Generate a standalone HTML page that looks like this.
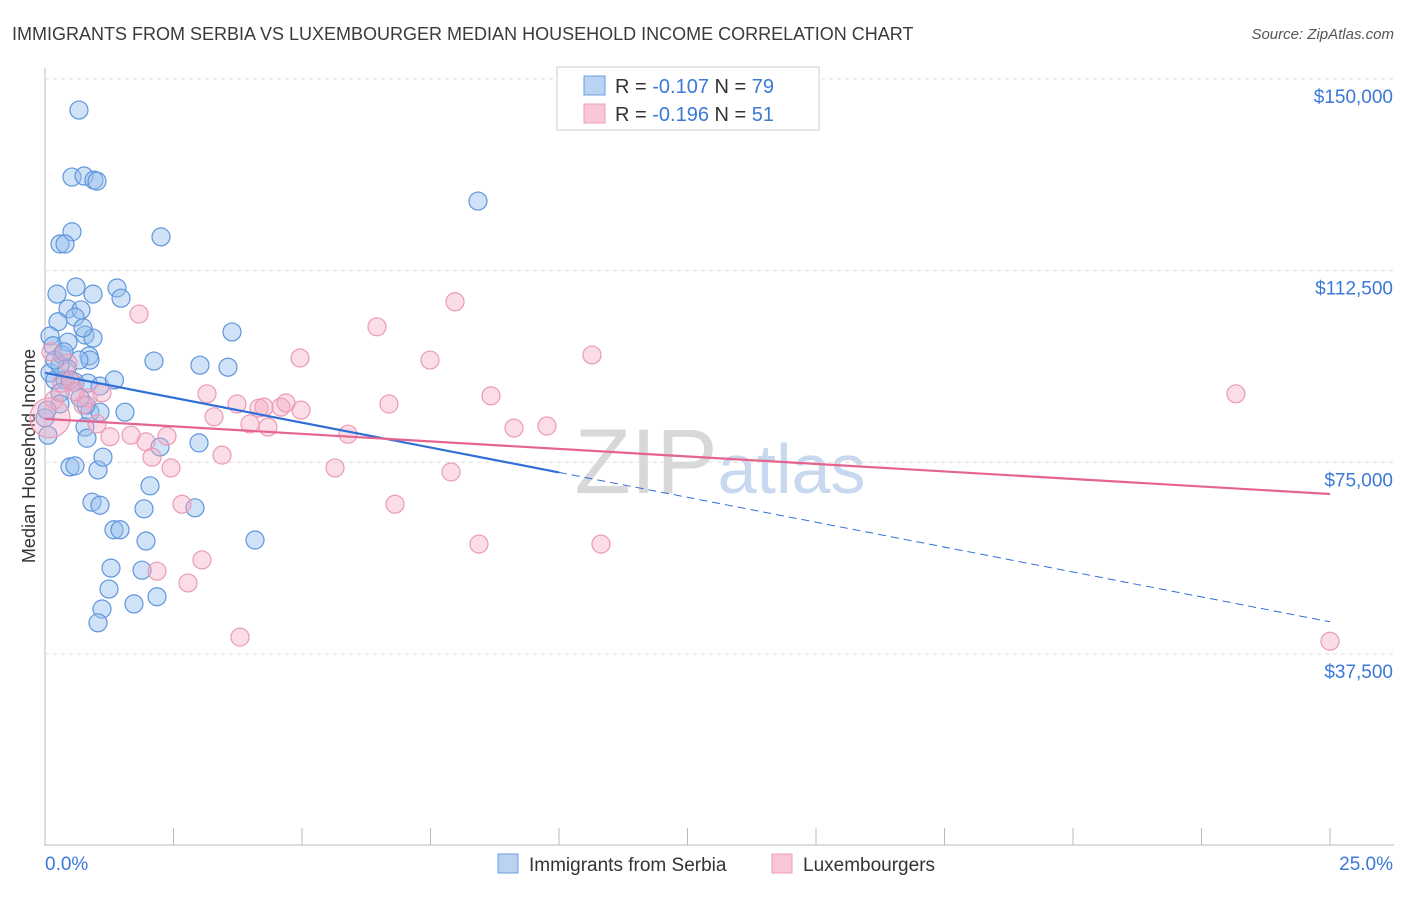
<!DOCTYPE html>
<html><head><meta charset="utf-8"><style>
body{margin:0;background:#fff;font-family:"Liberation Sans",sans-serif;}
svg text{font-family:"Liberation Sans",sans-serif;}
</style></head><body>
<svg id="c" width="1406" height="892">
<text x="12" y="40" font-size="18" fill="#3a3a3a">IMMIGRANTS FROM SERBIA VS LUXEMBOURGER MEDIAN HOUSEHOLD INCOME CORRELATION CHART</text>
<text x="1394" y="39" font-size="15" fill="#555" text-anchor="end" font-style="italic">Source: ZipAtlas.com</text>
<text x="35" y="456" font-size="18" fill="#333" text-anchor="middle" transform="rotate(-90 35 456)">Median Household Income</text>
<text x="720" y="493" font-size="92" fill="#d8d8d8" text-anchor="middle" font-family="Liberation Serif">ZIP<tspan fill="#c8d8ee" font-family="Liberation Sans" font-size="70">atlas</tspan></text>
<g id="grid"></g><g id="pts"></g><g id="lines"></g>
<g>
<rect x="557" y="67" width="262" height="63" fill="#fff" stroke="#ccc"/>
<rect x="584" y="76" width="21" height="19" fill="#b9d3f3" stroke="#6c9ee0"/>
<rect x="584" y="104" width="21" height="19" fill="#f8c6d5" stroke="#eba0b8"/>
<text x="615" y="93" font-size="20" fill="#333">R = <tspan fill="#3b78d8">-0.107</tspan>    N = <tspan fill="#3b78d8">79</tspan></text>
<text x="615" y="121" font-size="20" fill="#333">R = <tspan fill="#3b78d8">-0.196</tspan>    N =  <tspan fill="#3b78d8">51</tspan></text>
</g>
<g>
<rect x="498" y="854" width="20" height="19" fill="#b9d3f3" stroke="#6c9ee0"/>
<text x="529" y="871" font-size="19" fill="#333">Immigrants from Serbia</text>
<rect x="772" y="854" width="20" height="19" fill="#f8c6d5" stroke="#eba0b8"/>
<text x="803" y="871" font-size="19" fill="#333">Luxembourgers</text>
</g>
</svg>
<script>
const yTicks=[37.5,75,112.5,150];
const yTickLabels=["$37,500","$75,000","$112,500","$150,000"];
const xTickLabels=["0.0%","25.0%"];
const blueX=[0.661,0.525,0.759,0.953,1.012,8.424,0.525,0.292,0.389,2.257,0.233,0.603,1.401,0.934,1.479,0.447,0.700,0.253,0.584,0.097,0.778,0.934,0.156,0.447,0.331,0.856,0.875,0.661,2.120,3.015,3.560,3.638,0.428,0.097,0.194,0.389,0.584,0.836,1.070,0.292,0.875,1.070,1.556,0.292,0.798,0.778,0.817,2.996,0,0.058,2.237,0.486,0.584,1.031,1.128,2.043,0.914,1.070,2.918,1.926,1.342,1.459,1.965,4.086,1.284,1.887,1.245,2.179,1.109,1.731,1.031,0.039,0.292,0.486,0.194,0.370,0.739,1.351,0.681];
const blueY=[143.9,130.8,131.0,130.2,130.0,126.1,120.1,117.7,117.7,119.1,107.9,109.3,109.1,107.9,107.1,105.0,104.8,102.5,103.4,99.7,99.9,99.3,97.8,98.5,96.0,95.8,95.0,95.0,94.8,94.0,93.6,100.5,93.4,92.5,91.1,91.1,90.7,90.5,89.9,88.6,84.8,84.8,84.8,86.4,86.2,81.9,79.7,78.8,83.7,80.3,78.0,74.1,74.3,73.5,76.0,70.4,67.2,66.6,66.1,65.9,61.8,61.8,59.6,59.8,54.3,53.9,50.2,48.7,46.3,47.3,43.6,85.2,94.0,91.1,95.0,96.6,101.3,91.1,87.6];
const pinkX=[0.117,0.447,0.525,0.331,0.175,0.097,0.836,1.109,1.012,1.265,1.673,1.829,1.965,2.082,2.373,2.451,2.665,3.152,3.288,3.444,3.735,3.988,4.163,4.260,4.338,4.591,4.689,4.981,4.961,5.642,5.895,6.459,6.692,6.809,7.490,7.899,7.977,8.443,8.677,9.124,9.766,10.642,10.817,3.054,2.782,2.179,3.794,23.170,25.0,0.739,0.584];
const pinkY=[96.6,94.4,90.7,90.5,87.2,83.7,87.6,88.6,82.5,80.0,80.3,104.0,79.0,76.0,80.1,73.9,66.8,88.4,83.9,76.4,86.4,82.5,85.6,85.8,81.9,85.8,86.6,85.2,95.4,73.9,80.5,101.5,86.4,66.8,95.0,73.1,106.4,59.0,88.0,81.7,82.1,96.0,59.0,55.9,51.4,53.7,40.8,88.4,40.0,86.2,88.8];
const blueTrend=[92.5,43.8];
const pinkTrend=[83.5,68.8];
const blueSolidEnd=10;
const X=v=>45+v/25*1285;
const Y=v=>845.7-v/37.5*191.7;
const NS="http://www.w3.org/2000/svg";
function mk(t,a,p){const e=document.createElementNS(NS,t);for(const k in a)e.setAttribute(k,a[k]);p.appendChild(e);return e;}
const grid=document.getElementById('grid');
const svg=document.getElementById('c');
let ax=mk('line',{x1:45,y1:68,x2:45,y2:846,stroke:'#bbb'},grid);


let bx=mk('line',{x1:45,y1:845,x2:1394,y2:845,stroke:'#bbb'},grid);


for(let i=0;i<=10;i++){const x=X(i*2.5);const t=mk('line',{x1:x,y1:828,x2:x,y2:845,stroke:'#bbb'},grid);

}
yTicks.forEach((v,i)=>{const y=Y(v);
const g=mk('line',{x1:45,y1:y,x2:1394,y2:y,stroke:'#ddd','stroke-dasharray':'4,4'},grid);


const t=mk('text',{x:1393,y:y+24,'font-size':19,fill:'#3b78d8','text-anchor':'end'},grid);t.textContent=yTickLabels[i];

});
xTickLabels.forEach((s,i)=>{const t=mk('text',{x:i?1393:45,y:870,'font-size':19,fill:'#3b78d8','text-anchor':i?'end':'start'},grid);t.textContent=s;

});
const pts=document.getElementById('pts');
blueX.forEach((v,i)=>{const c=mk('circle',{cx:X(v),cy:Y(blueY[i]),r:9,fill:'rgba(150,190,238,0.45)',stroke:'#5f95dc','stroke-width':1.2},pts);

});
pinkX.forEach((v,i)=>{const c=mk('circle',{cx:X(v),cy:Y(pinkY[i]),r:i==5?20:9,fill:'rgba(245,170,195,0.4)',stroke:'#ec9ab5','stroke-width':1.2},pts);

});
const L=document.getElementById('lines');
const bMid=blueTrend[0]+(blueTrend[1]-blueTrend[0])*blueSolidEnd/25;
let l1=mk('line',{x1:X(0),y1:Y(blueTrend[0]),x2:X(blueSolidEnd),y2:Y(bMid),stroke:'#2f6fd6','stroke-width':2.2},L);


let l2=mk('line',{x1:X(blueSolidEnd),y1:Y(bMid),x2:X(25),y2:Y(blueTrend[1]),stroke:'#2f6fd6','stroke-width':1,'stroke-dasharray':'8,5'},L);


let l3=mk('line',{x1:X(0),y1:Y(pinkTrend[0]),x2:X(25),y2:Y(pinkTrend[1]),stroke:'#e5638f','stroke-width':2.2},L);


</script>
</body></html>
